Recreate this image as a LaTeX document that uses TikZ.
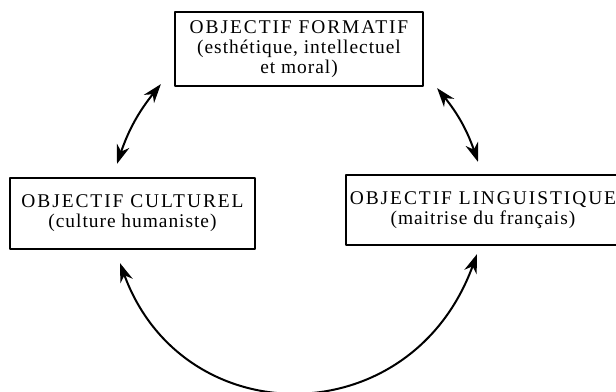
\documentclass[tikz,border=0pt]{standalone}
\usepackage{fontspec}
\setmainfont{Liberation Serif}
\newfontfamily\capsfont[LetterSpace=10]{Liberation Serif}
\newfontfamily\lowfont[LetterSpace=5]{Liberation Serif}
\usetikzlibrary{positioning,calc,arrows.meta}

\tikzset{
  objbox/.style={draw, line width=2.2bp, align=center, inner sep=0pt,
    font=\fontsize{19.5}{20}\selectfont},
  link/.style={<->, line width=2bp}
}
\newcommand{\objtitle}[1]{{\capsfont #1}}
\newcommand{\objsub}[1]{{\lowfont #1}}

\begin{document}
\begin{tikzpicture}[>={Stealth[length=19bp,width=13bp,inset=6bp]}, line join=bevel]
  \useasboundingbox (0bp,0bp) rectangle (616bp,392bp);
  \clip (0bp,0bp) rectangle (616bp,392bp);
  % Node: formatif
  \node [objbox, minimum width=248bp, minimum height=74bp] (formatif) at (299bp,343bp)
    {\objtitle{OBJECTIF FORMATIF}\\ \objsub{(esthétique, intellectuel}\\ \objsub{et moral)}};
  % Node: culturel
  \node [objbox, minimum width=245bp, minimum height=71bp] (culturel) at (132.5bp,178.5bp)
    {\objtitle{OBJECTIF CULTUREL}\\ \objsub{(culture humaniste)}};
  % Node: linguistique
  \node [objbox, minimum width=274bp, minimum height=70bp] (linguistique) at (483bp,182bp)
    {\objtitle{OBJECTIF LINGUISTIQUE}\\ \objsub{(maitrise du français)}};
  % Edge: formatif <-> culturel
  \draw [link] ($(formatif.south west)+(-13bp,3bp)$) to [bend right=10] ($(culturel.north)+(-15.5bp,13bp)$);
  % Edge: formatif <-> linguistique
  \draw [link] ($(formatif.south east)+(13bp,-1bp)$) to [bend left=10] ($(linguistique.north)+(-5bp,12bp)$);
  % Edge: culturel <-> linguistique
  \draw [link] ($(culturel.south)+(-12.5bp,-13bp)$) .. controls +(63bp,-172bp) and +(-66bp,-181bp) .. ($(linguistique.south)+(-6bp,-8bp)$);
\end{tikzpicture}
\end{document}
